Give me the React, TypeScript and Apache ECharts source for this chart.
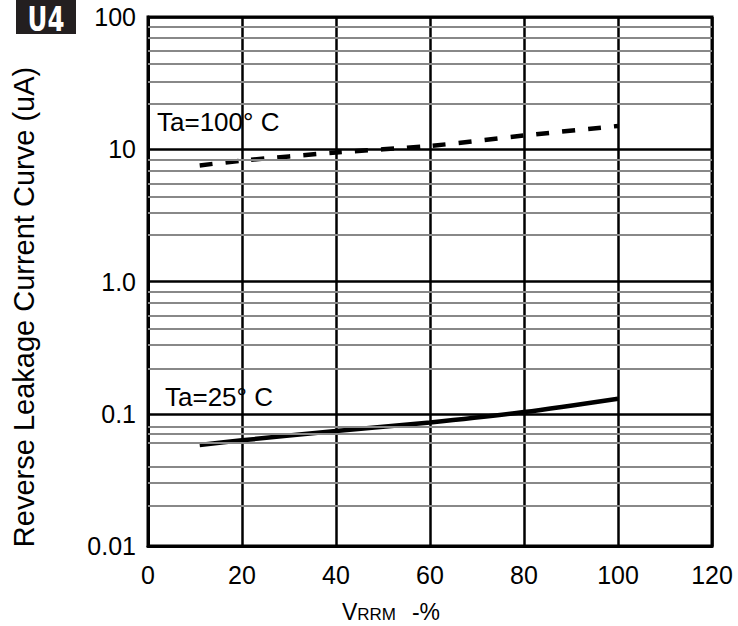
import React, { useEffect, useRef } from "react";
import * as echarts from "echarts";

const xTickValues = [0, 20, 40, 60, 80, 100, 120];
const hotX = [11, 20, 40, 60, 80, 100];
const hotY = [7.55, 8.2, 9.45, 10.6, 12.7, 15.0];
const coldX = [11, 20, 40, 60, 80, 100];
const coldY = [0.058, 0.063, 0.074, 0.086, 0.103, 0.13];
const minorGrid = [
  85, 70, 55.5, 44, 32.6, 22.2,
  8.3, 6.85, 5.5, 4.4, 3.3, 2.25,
  0.84, 0.69, 0.55, 0.44, 0.325, 0.224,
  0.083, 0.068, 0.055, 0.0435, 0.0325, 0.022,
];
const yLabelText: Record<string, string> = {
  "0.01": "0.01",
  "0.1": "0.1",
  "1": "1.0",
  "10": "10",
  "100": "100",
};

const FONT = "'Liberation Sans', Arial, Helvetica, sans-serif";

export default function App() {
  const ref = useRef<HTMLDivElement>(null);
  useEffect(() => {
    if (!ref.current) return;
    const chart = echarts.init(ref.current, undefined, { renderer: "svg" });
    chart.setOption({
      animation: false,
      backgroundColor: "#ffffff",
      grid: {
        left: 148,
        top: 17,
        width: 564,
        height: 529,
        show: true,
        borderColor: "#000",
        borderWidth: 3,
        backgroundColor: "transparent",
      },
      xAxis: {
        type: "value",
        min: xTickValues[0],
        max: xTickValues[xTickValues.length - 1],
        interval: 20,
        axisLine: { show: true, lineStyle: { color: "#000", width: 3 } },
        axisTick: { show: false },
        axisLabel: {
          color: "#000",
          fontSize: 25,
          fontFamily: FONT,
          margin: 16,
        },
        splitLine: { show: true, lineStyle: { color: "#000", width: 2.5 } },
      },
      yAxis: {
        type: "log",
        logBase: 10,
        min: 0.01,
        max: 100,
        axisLine: { show: true, lineStyle: { color: "#000", width: 3 } },
        axisTick: { show: false },
        axisLabel: {
          color: "#000",
          fontSize: 25,
          fontFamily: FONT,
          margin: 12,
          formatter: (v: number) => yLabelText[String(+v.toPrecision(3))] ?? String(v),
        },
        splitLine: { show: true, lineStyle: { color: "#000", width: 2.5 } },
        minorTick: { show: false },
        minorSplitLine: { show: false },
      },
      graphic: [
        {
          type: "rect",
          shape: { x: 16, y: 0, width: 60, height: 34 },
          style: { fill: "#231f20" },
        },
        {
          type: "text",
          x: 46,
          y: 19,
          scaleX: 0.8,
          style: {
            text: "U4",
            fill: "#fff",
            fontSize: 34,
            lineHeight: 30,
            fontWeight: "bold",
            fontFamily: "'DejaVu Sans Condensed', 'Liberation Sans Narrow', sans-serif",
            align: "center",
            verticalAlign: "middle",
          },
        },
        {
          type: "text",
          x: 24,
          y: 307,
          rotation: Math.PI / 2,
          style: {
            text: "Reverse Leakage Current Curve (uA)",
            fill: "#000",
            fontSize: 29,
            fontFamily: FONT,
            align: "center",
            verticalAlign: "middle",
          },
        },
        {
          type: "text",
          x: 157,
          y: 122,
          style: {
            text: "Ta=100° C",
            fill: "#000",
            fontSize: 26,
            fontFamily: FONT,
            align: "left",
            verticalAlign: "middle",
          },
        },
        {
          type: "text",
          x: 165,
          y: 397,
          style: {
            text: "Ta=25° C",
            fill: "#000",
            fontSize: 26,
            fontFamily: FONT,
            align: "left",
            verticalAlign: "middle",
          },
        },
        {
          type: "text",
          x: 391,
          y: 612,
          style: {
            text: "{v|V}{s|RRM}{g|-%}",
            fill: "#000",
            align: "center",
            verticalAlign: "middle",
            rich: {
              v: { fontSize: 23, fontFamily: FONT, fill: "#000" },
              s: { fontSize: 17, fontFamily: FONT, fill: "#000", padding: [4, 0, 0, 0] },
              g: { fontSize: 23, fontFamily: FONT, fill: "#000", padding: [0, 0, 0, 16] },
            },
          },
        },
      ],
      series: [
        {
          type: "line",
          data: [],
          z: -1,
          silent: true,
          markLine: {
            silent: true,
            symbol: ["none", "none"],
            label: { show: false },
            lineStyle: { color: "#888888", width: 2, type: "solid" },
            emphasis: { disabled: true },
            data: minorGrid.map((v) => ({ yAxis: v })),
          },
        },
        {
          type: "line",
          name: "Ta=100",
          data: hotX.map((x, i) => [x, hotY[i]]),
          showSymbol: false,
          smooth: 0.3,
          lineStyle: { color: "#000", width: 4.5, type: [13, 13], cap: "butt" },
        },
        {
          type: "line",
          name: "Ta=25",
          data: coldX.map((x, i) => [x, coldY[i]]),
          showSymbol: false,
          smooth: 0.3,
          lineStyle: { color: "#000", width: 4.5, type: "solid" },
        },
      ],
    });
    return () => chart.dispose();
  }, []);
  return <div ref={ref} style={{ width: 738, height: 626, position: "absolute", left: 0, top: 0 }} />;
}
